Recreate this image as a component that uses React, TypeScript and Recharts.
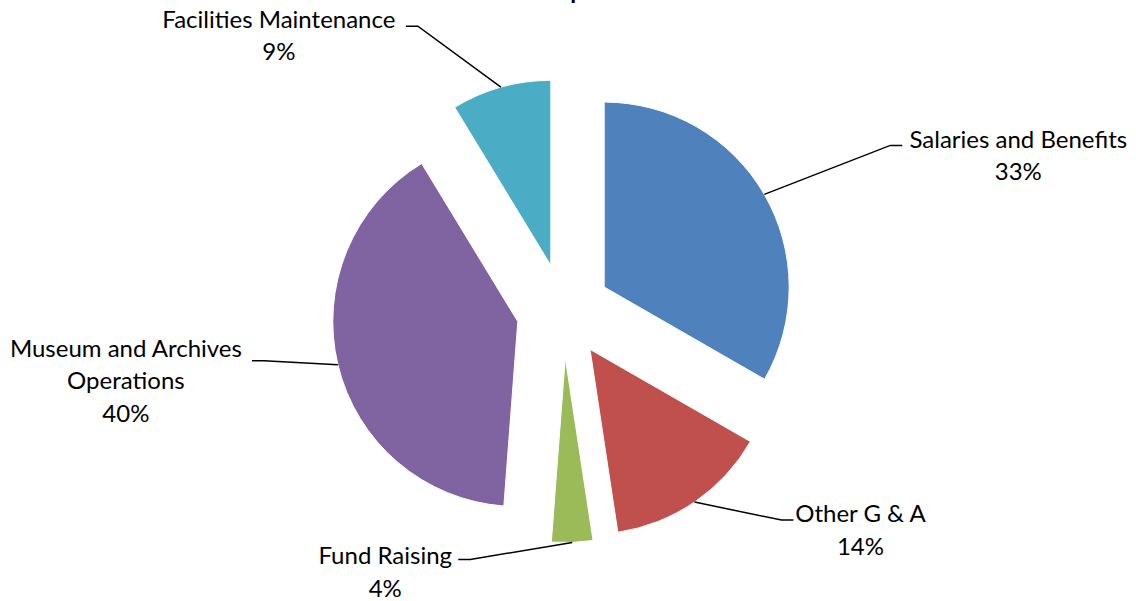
import React from "react";
import { PieChart, Pie, Cell } from "recharts";

const categories = [
  "Salaries and Benefits",
  "Other G & A",
  "Fund Raising",
  "Museum and Archives Operations",
  "Facilities Maintenance",
];
const values = [33.3, 14.3, 3.6, 40.1, 8.7];
const labelLines = [
  ["Salaries and Benefits"],
  ["Other G & A"],
  ["Fund Raising"],
  ["Museum and Archives", "Operations"],
  ["Facilities Maintenance"],
];
const chartTitle = "Expenses";

const colors = ["#4F81BD", "#C0504D", "#9BBB59", "#8064A2", "#4BACC6"];

// label layout: elbow offset from leader start, horizontal run direction, text centre offset from leader end, first baseline offset
const labelLayout = [
  { ex: 126, ey: -49, dir: 1, tcx: 116, bdy: 2.5 },
  { ex: 87, ey: 18, dir: 1, tcx: 67, bdy: 2 },
  { ex: -102, ey: 17, dir: -1, tcx: -73, bdy: 5 },
  { ex: -74, ey: -4, dir: -1, tcx: -126, bdy: -4 },
  { ex: -83, ey: -61, dir: -1, tcx: -127, bdy: 1.5 },
];

const W = 1136;
const H = 601;
const CX = 563.5;
const CY = 310.6;
const R = 185;
const EXPLODE = 47;
const FONT = "Lato, 'Noto Sans', sans-serif";
const FS = 24;
const LH = 32.5;

const data = categories.map((name, i) => ({ name, value: values[i] }));
const total = values.reduce((a, b) => a + b, 0);
const midAngles = values.map((v, i) => {
  const before = values.slice(0, i).reduce((a, b) => a + b, 0);
  return ((before + v / 2) / total) * 360; // clockwise from top
});

const RAD = Math.PI / 180;

function makeLabel(focus: number) {
  return (props: any) => {
    const { cx, cy, midAngle, outerRadius, index } = props;
    if (index !== focus) return <g />;
    const sx = cx + outerRadius * Math.cos(-midAngle * RAD);
    const sy = cy + outerRadius * Math.sin(-midAngle * RAD);
    const L = labelLayout[index];
    const ex = sx + L.ex;
    const ey = sy + L.ey;
    const hx = ex + L.dir * 12;
    const pct = Math.round((values[index] / total) * 100);
    const lines = [...labelLines[index], `${pct}%`];
    const tx = hx + L.tcx;
    return (
      <g>
        <polyline
          points={`${sx},${sy} ${ex},${ey} ${hx},${ey}`}
          fill="none"
          stroke="#000"
          strokeWidth={1.5}
        />
        {lines.map((t, k) => (
          <text
            key={k}
            x={tx}
            y={ey + L.bdy + k * LH}
            textAnchor="middle"
            fontFamily={FONT}
            fontSize={FS}
            fill="#000"
          >
            {t}
          </text>
        ))}
      </g>
    );
  };
}

export default function App() {
  return (
    <div style={{ position: "absolute", left: 0, top: 0, width: W, height: H, background: "#fff" }}>
      <PieChart width={W} height={H} margin={{ top: 0, right: 0, bottom: 0, left: 0 }}>
        {data.map((_, i) => {
          const a = midAngles[i] * RAD;
          const pcx = CX + EXPLODE * Math.sin(a);
          const pcy = CY - EXPLODE * Math.cos(a);
          return (
            <Pie
              key={i}
              data={data}
              dataKey="value"
              nameKey="name"
              cx={pcx}
              cy={pcy}
              outerRadius={R}
              innerRadius={0}
              startAngle={90}
              endAngle={-270}
              isAnimationActive={false}
              labelLine={false}
              label={makeLabel(i)}
            >
              {data.map((__, j) => (
                <Cell
                  key={j}
                  fill={j === i ? colors[j] : "none"}
                  stroke={j === i ? "#fff" : "none"}
                  strokeWidth={1}
                />
              ))}
            </Pie>
          );
        })}
      </PieChart>
      <svg width={W} height={H} style={{ position: "absolute", left: 0, top: 0, pointerEvents: "none" }}>
        <text x={544} y={-1} fontFamily={FONT} fontWeight="bold" fontSize={24} fill="#000">
          {chartTitle}
        </text>
      </svg>
    </div>
  );
}
